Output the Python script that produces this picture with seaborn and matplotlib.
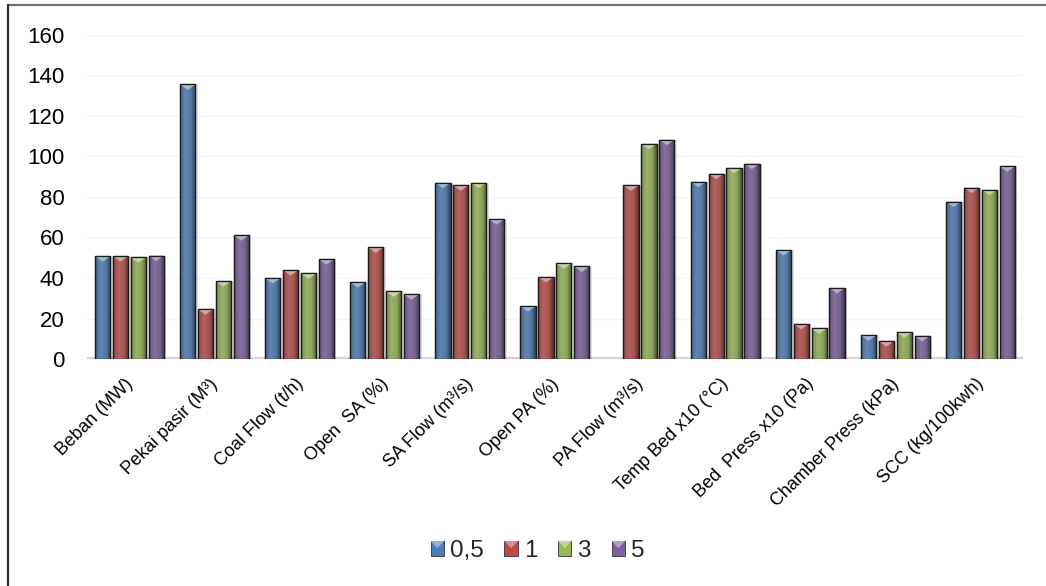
import numpy as np
import pandas as pd
import seaborn as sns
import matplotlib.pyplot as plt
import matplotlib.colors as mcolors
import matplotlib.transforms as mtransforms
from matplotlib.patches import Rectangle, Polygon, Patch
from matplotlib.lines import Line2D
from matplotlib.legend_handler import HandlerBase

# Operating parameters per condition
categories = ["Beban (MW)", "Pekai pasir (M³)", "Coal Flow (t/h)", "Open  SA (%)",
              "SA Flow (m³/s)", "Open PA (%)", "PA Flow (m³/s)", "Temp Bed x10 (°C)",
              "Bed  Press x10 (Pa)", "Chamber Press (kPa)", "SCC (kg/100kwh)"]
series_labels = ["0,5", "1", "3", "5"]
s_05 = [50.8, 135.4, 40.0, 38.0, 87.0, 26.2, np.nan, 87.5, 53.8, 11.8, 77.7]
s_1 = [50.8, 24.6, 43.9, 55.1, 85.7, 40.5, 85.7, 91.5, 17.4, 8.9, 84.6]
s_3 = [50.2, 38.5, 42.3, 33.4, 87.0, 47.2, 106.2, 94.4, 15.2, 13.3, 83.6]
s_5 = [51.1, 61.1, 49.3, 32.0, 69.0, 45.7, 108.2, 96.4, 35.1, 11.5, 95.1]
y_ticks = [0, 20, 40, 60, 80, 100, 120, 140, 160]

palette = ["#4A7EBB", "#BE4B48", "#98B954", "#7D60A0"]

df = pd.DataFrame({
    "param": categories * 4,
    "cond": sum([[lab] * len(categories) for lab in series_labels], []),
    "value": s_05 + s_1 + s_3 + s_5,
}).dropna()

sns.set_theme(style="white")
plt.rcParams["font.family"] = ["Liberation Sans", "DejaVu Sans"]

fig = plt.figure(figsize=(10.46, 5.86), dpi=100)
ax = fig.add_axes([0.083, 0.387, 0.895, 0.554])

sns.barplot(data=df, x="param", y="value", hue="cond", order=categories,
            hue_order=series_labels, palette=palette, width=0.84, gap=0.15,
            errorbar=None, legend=False, ax=ax, edgecolor="#1c1c1c",
            linewidth=0.9, zorder=3)

ax.set_ylim(0, 160)
ax.set_xlim(-0.5, len(categories) - 0.5)
ax.set_yticks(y_ticks)
ax.set_yticklabels([str(t) for t in y_ticks], fontsize=16, color="black")
ax.set_xticks(range(len(categories)))
ax.set_xticklabels(categories, rotation=45, ha="right", rotation_mode="anchor",
                   fontsize=13, color="black")
ax.tick_params(axis="y", length=0, pad=16)
ax.tick_params(axis="x", length=0, pad=8)
shift = mtransforms.ScaledTranslation(-5 / 100, -5 / 100, fig.dpi_scale_trans)
for lab in ax.get_xticklabels():
    lab.set_transform(lab.get_transform() + shift)
ax.set_xlabel("")
ax.set_ylabel("")
for s in ax.spines.values():
    s.set_visible(False)
ax.yaxis.grid(True, color="#f4f4f4", linewidth=1.0, zorder=0)
ax.set_axisbelow(True)
ax.axhline(0, color="#d4d4d4", linewidth=3, zorder=2)


def shade(c, f):
    r, g, b = mcolors.to_rgb(c)
    if f >= 0:
        return (r + (1 - r) * f, g + (1 - g) * f, b + (1 - b) * f)
    return (r * (1 + f), g * (1 + f), b * (1 + f))


# Bevelled look: horizontal gradient, soft shadow and a light top facet
px_per_unit = ax.get_window_extent().height / 160.0
tri_h = 5.5 / px_per_unit
shadow_dx = 2.5 / (ax.get_window_extent().width / len(categories))
for p in list(ax.patches):
    x, w, h = p.get_x(), p.get_width(), p.get_height()
    if not np.isfinite(h) or h <= 0:
        continue
    base = p.get_facecolor()
    cmap = mcolors.LinearSegmentedColormap.from_list(
        "bar", [(0.0, shade(base, -0.5)), (0.1, shade(base, -0.12)),
                (0.35, shade(base, 0.06)), (0.7, shade(base, -0.05)),
                (1.0, shade(base, -0.5))])
    grad = np.linspace(0, 1, 64).reshape(1, -1)
    im = ax.imshow(grad, cmap=cmap, extent=[x, x + w, 0, h], aspect="auto",
                   zorder=3.1, interpolation="bilinear")
    im.set_clip_path(p)
    ax.add_patch(Rectangle((x + shadow_dx, 0), w, h, facecolor="#000000",
                           alpha=0.12, edgecolor="none", zorder=2.5))
    ax.add_patch(Polygon([[x, h], [x + w, h], [x + w / 2, h - tri_h]],
                         closed=True, facecolor=shade(base, 0.45),
                         edgecolor="none", zorder=3.2))
    ax.add_patch(Rectangle((x, 0), w, h, facecolor="none", edgecolor="#1c1c1c",
                           linewidth=0.9, zorder=3.3))

ax.set_xlim(-0.5, len(categories) - 0.5)
ax.set_ylim(0, 160)


class BevelHandler(HandlerBase):
    def create_artists(self, legend, orig_handle, xdescent, ydescent, width,
                       height, fontsize, trans):
        c = orig_handle.get_facecolor()
        x0, y0 = -xdescent, -ydescent
        sq = Rectangle((x0, y0), width, height, facecolor=c, edgecolor="#333333",
                       linewidth=0.6, transform=trans)
        tri = Polygon([[x0, y0 + height], [x0 + width, y0 + height],
                       [x0 + width / 2, y0 + height * 0.5]], closed=True,
                      facecolor=shade(c, 0.4), edgecolor="none", transform=trans)
        return [sq, tri]


handles = [Patch(facecolor=c) for c in palette]
fig.legend(handles, series_labels, loc="center", bbox_to_anchor=(0.514, 0.06),
           ncol=4, frameon=False, fontsize=17.5, handlelength=0.55,
           handleheight=0.55, handletextpad=0.25, columnspacing=0.85,
           handler_map={Patch: BevelHandler()})

# Outer frame (top and left edges)
fig.add_artist(Line2D([8 / 1046, 1.0], [1 - 5 / 586, 1 - 5 / 586],
                      transform=fig.transFigure, color="#6e6e6e", linewidth=1.6))
fig.add_artist(Line2D([8 / 1046, 8 / 1046], [0.0, 1 - 5 / 586],
                      transform=fig.transFigure, color="#2e2e2e", linewidth=1.6))

fig.savefig("out.png", dpi=100)
